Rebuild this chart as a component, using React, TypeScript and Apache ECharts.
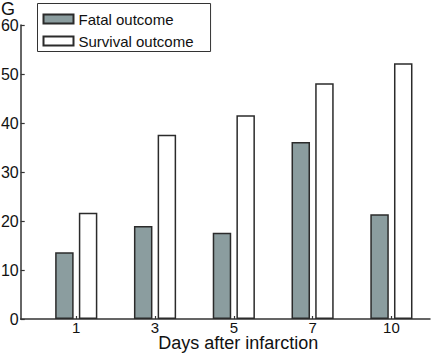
import React, { useEffect, useRef } from "react";
import * as echarts from "echarts";

const dayLabels = ["1", "3", "5", "7", "10"];
const fatalValues = [13.6, 19.0, 17.6, 36.1, 21.4];
const survivalValues = [21.7, 37.6, 41.6, 48.1, 52.2];
const seriesNames = ["Fatal outcome", "Survival outcome"];
const yTicks = { min: 0, max: 60, interval: 10 };
const panelLetter = "G";

const FONT = "'Liberation Sans', Arial, Helvetica, sans-serif";

export default function App() {
  const ref = useRef<HTMLDivElement>(null);
  useEffect(() => {
    document.body.style.margin = "0";
    if (!ref.current) return;
    const chart = echarts.init(ref.current, null, { renderer: "svg" });
    const positions = dayLabels.map((_, i) => i);
    const option = {
      animation: false,
      backgroundColor: "#ffffff",
      textStyle: { fontFamily: FONT },
      graphic: [
        {
          type: "text",
          x: 1,
          y: 9,
          style: {
            text: panelLetter,
            font: `18px ${FONT}`,
            fill: "#111",
            textAlign: "left",
            textVerticalAlign: "middle",
          },
        },
      ],
      legend: {
        data: seriesNames,
        orient: "vertical",
        left: 37.5,
        top: 3.5,
        padding: [8, 17, 3, 5],
        itemGap: 7,
        itemWidth: 30,
        itemHeight: 9,
        icon: "rect",
        borderColor: "#333",
        borderWidth: 1,
        textStyle: { fontFamily: FONT, fontSize: 15, color: "#111" },
      },
      grid: {
        left: 20.7,
        right: 6,
        top: 25,
        bottom: 39,
        containLabel: false,
        outerBoundsMode: "none",
      },
      xAxis: {
        type: "value",
        min: -0.705,
        max: 4.49,
        splitLine: { show: false },
        axisLine: { show: true, onZero: false, lineStyle: { color: "#333", width: 1.5 } },
        axisTick: {
          show: true,
          inside: true,
          length: 3,
          customValues: positions,
          lineStyle: { color: "#333", width: 1.2 },
        },
        axisLabel: {
          customValues: positions,
          formatter: (v: number) => dayLabels[Math.round(v)] ?? "",
          fontFamily: FONT,
          fontSize: 15,
          lineHeight: 13,
          color: "#111",
          margin: 2,
        },
        name: "Days after infarction",
        nameLocation: "middle",
        nameGap: 17,
        nameMoveOverlap: false,
        nameTextStyle: {
          fontFamily: FONT,
          fontSize: 18,
          lineHeight: 14,
          color: "#111",
          padding: [0, 0, 0, 26],
        },
      },
      yAxis: {
        type: "value",
        min: yTicks.min,
        max: yTicks.max,
        interval: yTicks.interval,
        splitLine: { show: false },
        axisLine: { show: true, onZero: false, lineStyle: { color: "#333", width: 1.5 } },
        axisTick: { show: true, inside: true, length: 4, lineStyle: { color: "#333", width: 1.2 } },
        axisLabel: { fontFamily: FONT, fontSize: 16, color: "#111", margin: 2 },
      },
      series: [
        {
          name: seriesNames[0],
          type: "bar",
          barWidth: 18.5,
          barGap: "28%",
          data: fatalValues.map((v, i) => [i, v]),
          itemStyle: { color: "#8b9d9f", borderColor: "#2b2b2b", borderWidth: 1.5 },
        },
        {
          name: seriesNames[1],
          type: "bar",
          barWidth: 18.5,
          barGap: "28%",
          data: survivalValues.map((v, i) => [i, v]),
          itemStyle: { color: "#ffffff", borderColor: "#2b2b2b", borderWidth: 1.5 },
        },
      ],
    };
    chart.setOption(option as any);
    return () => chart.dispose();
  }, []);
  return <div ref={ref} style={{ width: 436, height: 358 }} />;
}
